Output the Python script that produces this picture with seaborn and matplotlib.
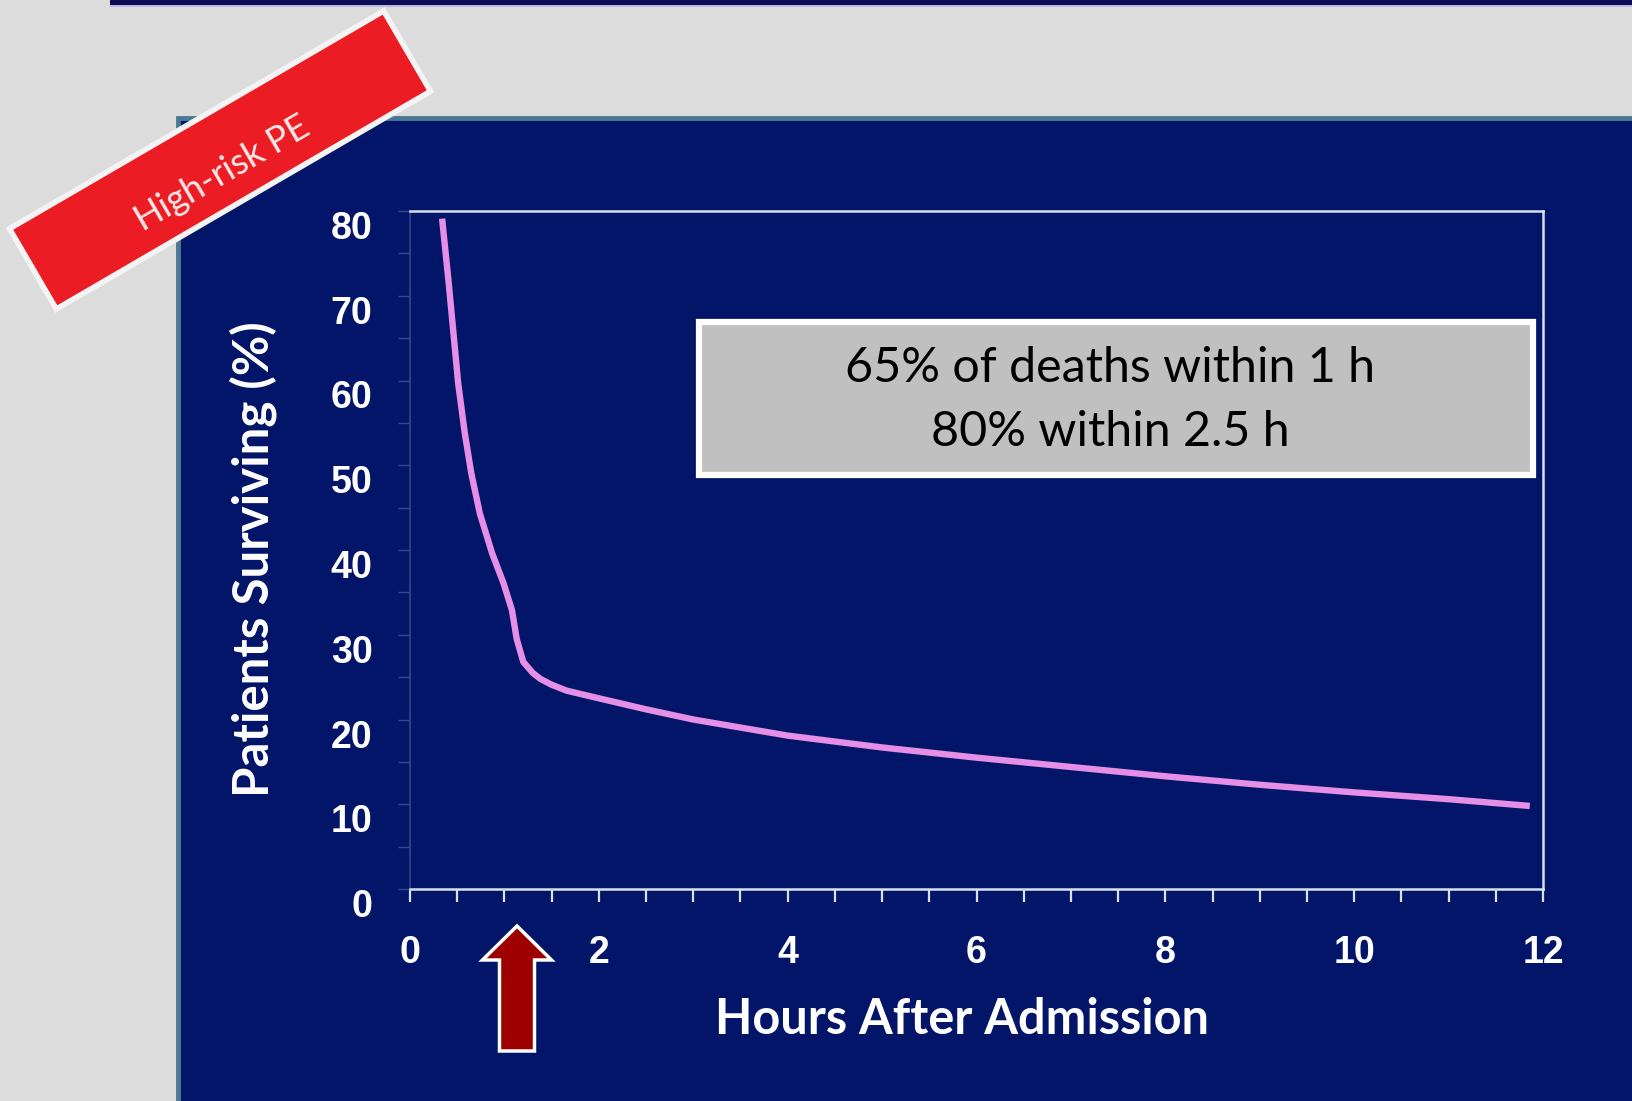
import numpy as np
import pandas as pd
import matplotlib
matplotlib.use("Agg")
import matplotlib.pyplot as plt
import matplotlib.transforms as mtrans
from matplotlib.patches import Rectangle, FancyArrow
import seaborn as sns

# Survival curve after admission (hours, % of patients surviving)
hours = [0.34, 0.41, 0.46, 0.51, 0.58, 0.65, 0.74, 0.87, 0.99, 1.08, 1.13, 1.20,
         1.30, 1.38, 1.50, 1.66, 2.0, 2.5, 3.0, 4.0, 5.0, 6.0, 7.0, 8.0, 9.0, 10.0,
         11.0, 11.86]
surviving = [79.1, 71.5, 65.6, 59.7, 53.8, 49.0, 44.3, 39.6, 36.1, 32.9, 29.5, 26.8,
             25.5, 24.8, 24.1, 23.4, 22.5, 21.2, 20.0, 18.1, 16.7, 15.5, 14.4, 13.3,
             12.3, 11.4, 10.6, 9.8]

x_ticks = [0, 2, 4, 6, 8, 10, 12]
y_ticks = [0, 10, 20, 30, 40, 50, 60, 70, 80]
x_label = "Hours After Admission"
y_label = "Patients Surviving (%)"
note_lines = ["65% of deaths within 1 h", "80% within 2.5 h"]
banner_text = "High-risk PE"

NAVY = "#021568"
PINK = "#E68FE6"

sns.set_style("ticks")
plt.rcParams["font.family"] = ["Lato", "DejaVu Sans"]

W, H, DPI = 1632, 1101, 100
fig = plt.figure(figsize=(W / DPI, H / DPI), dpi=DPI, facecolor="#DCDCDC")
px = mtrans.IdentityTransform()

# slide decorations: thin title rule at the top and the dark content panel
fig.add_artist(Rectangle((110, H - 5), W - 110, 5, transform=px, fc="#0C0C52",
                         ec="none", zorder=-3))
fig.add_artist(Rectangle((110, H - 6.5), W - 110, 1.5, transform=px, fc="#B8B8E8",
                         ec="none", zorder=-3))
fig.add_artist(Rectangle((178, -10), W, H - 118 + 10, transform=px, fc=NAVY,
                         ec="#4B7893", lw=3.5, zorder=-2))

ax = fig.add_axes([410 / W, (H - 889) / H, 1133 / W, 678 / H])
ax.set_facecolor(NAVY)

df = pd.DataFrame({"hours": hours, "surviving": surviving})
sns.lineplot(data=df, x="hours", y="surviving", ax=ax, color=PINK, lw=4.6,
             solid_capstyle="butt", solid_joinstyle="round")

ax.set_xlim(0, 12)
ax.set_ylim(0, 80)
ax.set_xticks(x_ticks)
ax.set_xticks(np.arange(0, 12.01, 0.5), minor=True)
ax.set_yticks(y_ticks)
ax.set_yticks(np.arange(0, 80.01, 5), minor=True)

tick_font = dict(family=["Liberation Sans", "DejaVu Sans"], weight="bold", size=27)
ax.set_xticklabels([str(v) for v in x_ticks], color="white", **tick_font)
ax.set_yticklabels([str(v) for v in y_ticks], color="white", **tick_font)

ax.tick_params(axis="x", which="both", direction="out", length=9, width=1.6,
               color="#D8E0EC", pad=24)
ax.tick_params(axis="y", which="both", direction="out", length=9, width=1.0,
               color="#34478C", pad=18)

for side in ("top", "right", "bottom"):
    ax.spines[side].set_color("#D8E0EC")
    ax.spines[side].set_linewidth(1.8)
ax.spines["left"].set_color("#34478C")
ax.spines["left"].set_linewidth(1.2)

# y tick labels sit slightly low on the slide
shift = mtrans.ScaledTranslation(0, -14 / DPI, fig.dpi_scale_trans)
for lbl in ax.get_yticklabels():
    lbl.set_transform(lbl.get_transform() + shift)

ax.set_xlabel(x_label, color="white", fontsize=35, fontweight="bold")
ax.xaxis.label.set_va("center")
ax.xaxis.set_label_coords(0.487, -0.192)
ax.set_ylabel(y_label, color="white", fontsize=35.5, fontweight="bold")
ax.yaxis.label.set_va("center")
ax.yaxis.set_label_coords(-0.1386, 0.487)

# annotation box
ax.add_patch(Rectangle((0.2553, 0.6107), 0.7356, 0.2255, transform=ax.transAxes,
                       fc="#C0C0C0", ec="white", lw=4.5, zorder=4, clip_on=False))
for line, yy in zip(note_lines, (0.7684, 0.674)):
    ax.text(0.618, yy, line, transform=ax.transAxes, ha="center", va="center",
            fontsize=34.8, color="black", zorder=5)

# arrow marking the one-hour point below the axis
fig.add_artist(FancyArrow(517, H - 1051, 0, 125, width=35, head_width=69,
                          head_length=34, length_includes_head=True, transform=px,
                          fc="#9E0000", ec="white", lw=2.5, zorder=5))

# red ribbon label in the corner
cx, cy, bw, bh, ang = 220, H - 160, 433, 93, 30.2
fig.add_artist(Rectangle((cx - bw / 2, cy - bh / 2), bw, bh, angle=ang,
                         rotation_point="center", transform=px, fc="#EC1C24",
                         ec="#F4F4F4", lw=4, zorder=6))
fig.text((cx + 2) / W, (cy - 14) / H, banner_text, rotation=ang, rotation_mode="anchor",
         ha="center", va="center", color="#FBEAEA", fontsize=26, zorder=7)

fig.savefig("out.png", dpi=DPI, facecolor=fig.get_facecolor())
